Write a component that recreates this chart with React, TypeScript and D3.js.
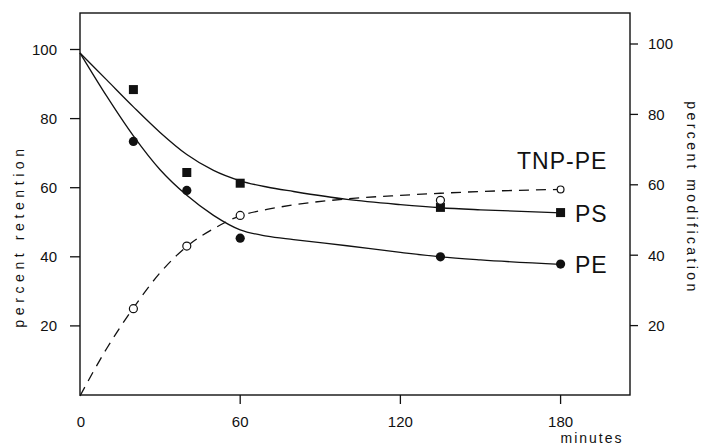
import React from "react";
import * as d3 from "d3";

// Measured data points (minutes, value)
const psMinutes = [20, 40, 60, 135, 180];
const psValues = [88.4, 64.4, 61.3, 54.3, 52.8];
const peMinutes = [20, 40, 60, 135, 180];
const peValues = [73.4, 59.2, 45.4, 40.0, 37.9];
const tnpMinutes = [20, 40, 60, 135, 180];
const tnpValues = [24.8, 42.6, 51.3, 55.6, 58.7];

// Fitted curves
const fitMinutes = [0, 10, 20, 30, 40, 50, 60, 70, 80, 100, 120, 135, 150, 180];
const psFit = [99, 91.2, 83.4, 76, 69.6, 65, 62, 60.2, 58.9, 56.6, 55.1, 54.2, 53.6, 52.7];
const peFit = [99, 86.5, 75, 65.2, 57.8, 52, 47.8, 46.0, 45.0, 43.2, 41.3, 40.0, 39.1, 37.8];
const tnpFit = [0, 13.5, 25, 35, 42.5, 47.5, 51.2, 53.0, 54.3, 56.0, 57.0, 57.6, 58.1, 58.7];

const xTicks = [0, 60, 120, 180];
const yTicks = [20, 40, 60, 80, 100];

const W = 702;
const H = 447;
const FONT = "'Liberation Sans', Arial, sans-serif";

export default function App() {
  const x = d3.scaleLinear().domain([0, 206]).range([80, 630]);
  const yL = d3.scaleLinear().domain([0, 100]).range([395, 49.5]);
  const yR = d3.scaleLinear().domain([0, 100]).range([396, 44]);

  const lineL = d3
    .line<[number, number]>()
    .x((d) => x(d[0]))
    .y((d) => yL(d[1]))
    .curve(d3.curveMonotoneX);
  const lineR = d3
    .line<[number, number]>()
    .x((d) => x(d[0]))
    .y((d) => yR(d[1]))
    .curve(d3.curveMonotoneX);

  const psPath = lineL(fitMinutes.map((m, i) => [m, psFit[i]]))!;
  const pePath = lineL(fitMinutes.map((m, i) => [m, peFit[i]]))!;
  const tnpPath = lineR(fitMinutes.map((m, i) => [m, tnpFit[i]]))!;

  const left = 80, right = 630, top = 13, bottom = 395;
  const stroke = "#111";

  return (
    <svg
      width={W}
      height={H}
      style={{ position: "absolute", left: 0, top: 0, background: "#fff" }}
      fontFamily={FONT}
    >
      <rect x={0} y={0} width={W} height={H} fill="#fff" />
      {/* frame */}
      <rect
        x={left}
        y={top}
        width={right - left}
        height={bottom - top}
        fill="none"
        stroke={stroke}
        strokeWidth={1.4}
      />
      {/* left ticks */}
      {yTicks.map((t) => (
        <g key={"l" + t}>
          <line x1={left - 10} x2={left} y1={yL(t)} y2={yL(t)} stroke={stroke} strokeWidth={1.3} />
          <text x={57} y={yL(t)} dy="0.36em" textAnchor="end" fontSize={15} fill={stroke}>
            {t}
          </text>
        </g>
      ))}
      {/* right ticks */}
      {yTicks.map((t) => (
        <g key={"r" + t}>
          <line x1={right} x2={right + 8} y1={yR(t)} y2={yR(t)} stroke={stroke} strokeWidth={1.3} />
          <text x={648} y={yR(t)} dy="0.36em" textAnchor="start" fontSize={15} fill={stroke}>
            {t}
          </text>
        </g>
      ))}
      {/* bottom ticks */}
      {xTicks.map((t) => (
        <g key={"b" + t}>
          {t > 0 && (
            <line x1={x(t)} x2={x(t)} y1={bottom} y2={bottom + 9} stroke={stroke} strokeWidth={1.3} />
          )}
          <text x={x(t) + (t === 0 ? 1 : 0)} y={427} textAnchor="middle" fontSize={15} fill={stroke}>
            {t}
          </text>
        </g>
      ))}
      {/* axis titles */}
      <text x={592} y={443} textAnchor="middle" fontSize={14} letterSpacing={2} fill={stroke}>
        minutes
      </text>
      <text
        transform="translate(24,236) rotate(-90)"
        textAnchor="middle"
        fontSize={14}
        letterSpacing={4.6}
        fill={stroke}
      >
        percent retention
      </text>
      <text
        transform="translate(687,198) rotate(90)"
        textAnchor="middle"
        fontSize={14}
        letterSpacing={3.4}
        fill={stroke}
      >
        percent modification
      </text>

      {/* curves */}
      <path d={psPath} fill="none" stroke={stroke} strokeWidth={1.3} />
      <path d={pePath} fill="none" stroke={stroke} strokeWidth={1.3} />
      <path d={tnpPath} fill="none" stroke={stroke} strokeWidth={1.3} strokeDasharray="10 7" />

      {/* markers */}
      {psMinutes.map((m, i) => (
        <rect key={"ps" + i} x={x(m) - 4.5} y={yL(psValues[i]) - 4.5} width={9} height={9} fill={stroke} />
      ))}
      {peMinutes.map((m, i) => (
        <circle key={"pe" + i} cx={x(m)} cy={yL(peValues[i])} r={4.6} fill={stroke} />
      ))}
      {tnpMinutes.map((m, i) => (
        <circle
          key={"tn" + i}
          cx={x(m)}
          cy={yR(tnpValues[i])}
          r={i === 4 ? 3.4 : 4}
          fill="#fff"
          stroke={stroke}
          strokeWidth={1.2}
        />
      ))}

      {/* series labels */}
      <text x={517} y={169} fontSize={23} letterSpacing={1} fill={stroke}>
        TNP-PE
      </text>
      <text x={575} y={222} fontSize={23} letterSpacing={1} fill={stroke}>
        PS
      </text>
      <text x={575} y={273} fontSize={23} letterSpacing={1} fill={stroke}>
        PE
      </text>
    </svg>
  );
}
